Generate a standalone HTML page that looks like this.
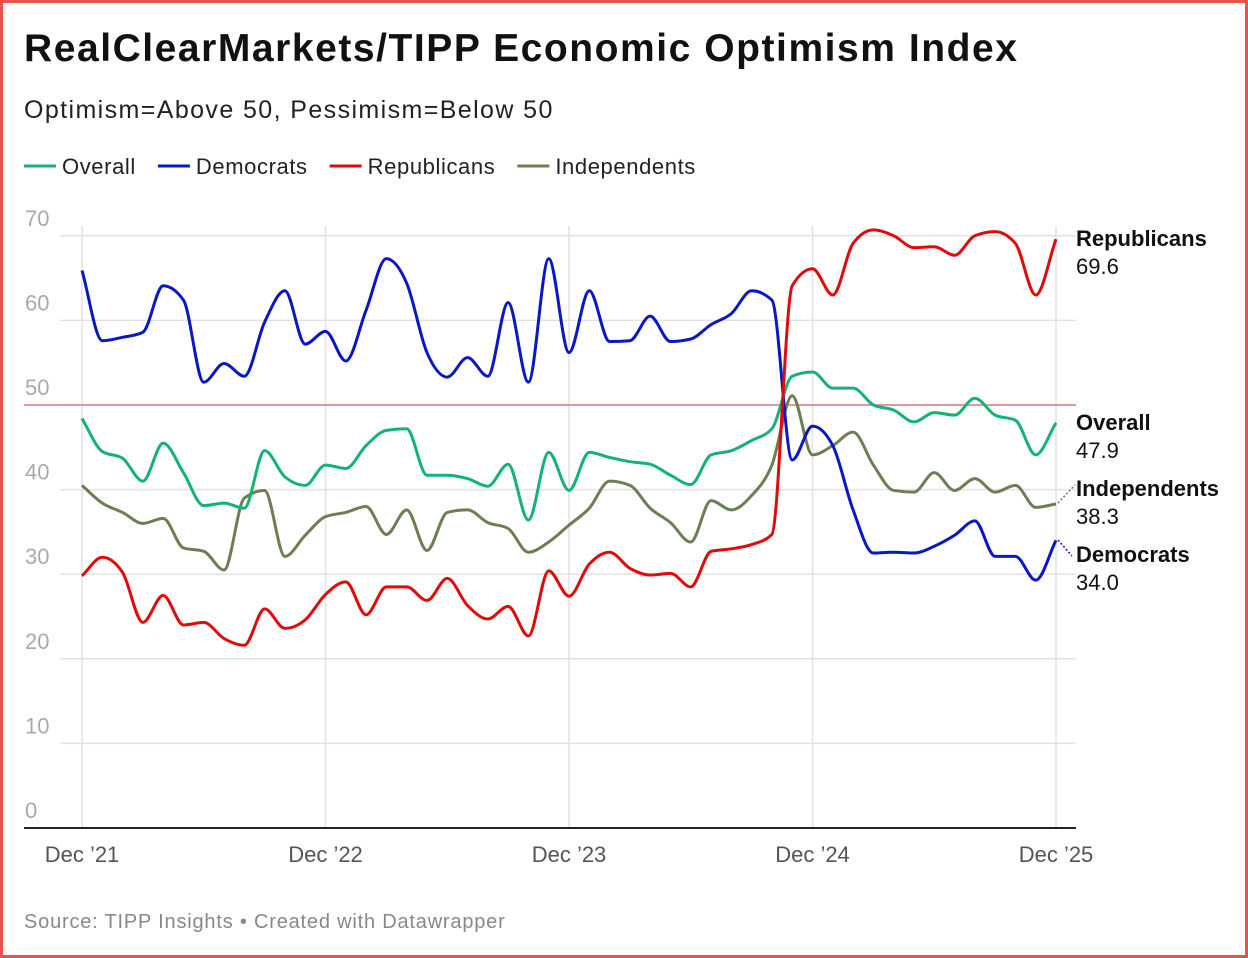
<!DOCTYPE html>
<html><head><meta charset="utf-8"><style>
html,body{margin:0;padding:0;background:#fff;}
body{width:1248px;height:958px;position:relative;overflow:hidden;font-family:"Liberation Sans",sans-serif;}
.frame{position:absolute;left:0;top:0;width:1242px;height:952px;border:3px solid #e8524a;}
.t{position:absolute;white-space:nowrap;}
</style></head><body>
<div class="frame"></div>
<div class="t" style="left:24px;top:27px;font-size:39px;font-weight:bold;color:#111;letter-spacing:1.55px">RealClearMarkets/TIPP Economic Optimism Index</div>
<div class="t" style="left:24px;top:96px;font-size:25px;color:#222;letter-spacing:1.4px">Optimism=Above 50, Pessimism=Below 50</div>
<svg width="1248" height="958" style="position:absolute;left:0;top:0" id="chart" font-family="Liberation Sans, sans-serif"></svg>
<script>
const categories=[];for(let i=0;i<49;i++)categories.push(i);
const xTickLabels=["Dec \u201921","Dec \u201922","Dec \u201923","Dec \u201924","Dec \u201925"];
const xTickIdx=[0,12,24,36,48];
const yTicks=[0,10,20,30,40,50,60,70];
const overall=[48.4,44.5,43.7,41,45.5,42,38.1,38.4,37.8,44.6,41.5,40.5,42.9,42.5,45.2,47,47.2,41.7,41.7,41.3,40.4,43,36.4,44.4,39.9,44.4,43.8,43.3,43,41.7,40.6,44.1,44.6,45.8,47.2,53.4,53.9,52,52,50,49.4,48,49.1,48.8,50.8,48.8,48.2,44.1,47.9];
const democrats=[65.9,57.6,58,58.6,64.1,62.4,52.7,54.9,53.4,59.8,63.5,57.2,58.7,55.2,61.2,67.3,64.4,56.2,53.3,55.6,53.4,62.1,52.7,67.3,56.2,63.5,57.5,57.6,60.5,57.5,57.8,59.5,60.8,63.5,62.4,43.5,47.5,45.2,37.6,32.5,32.6,32.5,33.3,34.6,36.3,32.1,32.1,29.3,34.0];
const republicans=[29.8,32,30.2,24.3,27.5,24,24.3,22.4,21.6,25.9,23.6,24.6,27.6,29.1,25.2,28.5,28.5,26.9,29.5,26.3,24.7,26.2,22.7,30.4,27.4,31.2,32.6,30.7,29.9,30.1,28.5,32.7,33,33.5,34.7,64.1,66.1,63,69.1,70.7,70,68.6,68.7,67.7,70,70.5,69.1,63,69.6];
const independents=[40.5,38.4,37.3,36,36.6,33.1,32.7,30.5,39,39.9,32.1,34.6,36.8,37.3,38,34.7,37.6,32.8,37.3,37.6,36.1,35.4,32.6,33.8,35.8,37.8,41,40.5,37.8,36.1,33.8,38.7,37.6,39.3,42.9,51.1,44.1,45.2,46.8,42.9,39.9,39.7,42,39.9,41.3,39.7,40.5,37.9,38.3];
const seriesNames=["Overall","Democrats","Republicans","Independents"];
const seriesColors=["#13b27a","#0a17c4","#e00a0a","#6d7f52"];
const seriesData=[overall,democrats,republicans,independents];

const svg=document.getElementById('chart');const NS='http://www.w3.org/2000/svg';
const X=i=>82+i*(1056-82)/48;const Y=v=>828-v*(828-405)/50;
function mk(t,a,name,txt){const e=document.createElementNS(NS,t);for(const k in a)e.setAttribute(k,a[k]);


if(txt!=null)e.textContent=txt;svg.appendChild(e);return e;}
yTicks.forEach(v=>{if(v>0)mk('line',{x1:60,x2:1076,y1:Y(v),y2:Y(v),stroke:'#e2e2e2','stroke-width':1.5},'y-gridline');
mk('text',{x:25,y:Y(v)-10,'font-size':22,fill:'#aaa'},'y-tick-label',String(v));});
xTickIdx.forEach((ix,k)=>{mk('line',{x1:X(ix),x2:X(ix),y1:226,y2:828,stroke:'#e2e2e2','stroke-width':1.5},'x-gridline');
mk('text',{x:X(ix),y:862,'font-size':22,fill:'#555','text-anchor':'middle'},'x-tick-label',xTickLabels[k]);});
mk('line',{x1:24,x2:1076,y1:Y(50),y2:Y(50),stroke:'#e07a7a','stroke-width':1.5},'reference-line-50');
mk('line',{x1:24,x2:1076,y1:828,y2:828,stroke:'#222','stroke-width':2},'x-axis-baseline');
function path(d){const p=d.map((v,i)=>[X(i),Y(v)]);const n=p.length;const h=p[1][0]-p[0][0];
const s=[];for(let i=0;i<n-1;i++)s.push((p[i+1][1]-p[i][1])/h);
const m=new Array(n);m[0]=s[0];m[n-1]=s[n-2];
for(let i=1;i<n-1;i++){const a=s[i-1],b=s[i];if(a*b<=0)m[i]=0;else{const pp=(a+b)/2;m[i]=(Math.sign(a)+Math.sign(b))*Math.min(Math.abs(a),Math.abs(b),0.5*Math.abs(pp));}}
let str='M'+p[0][0]+','+p[0][1];
for(let i=0;i<n-1;i++){const dx=h/3;str+=' C'+(p[i][0]+dx)+','+(p[i][1]+m[i]*dx)+' '+(p[i+1][0]-dx)+','+(p[i+1][1]-m[i+1]*dx)+' '+p[i+1][0]+','+p[i+1][1];}
return str;}
[3,0,1,2].forEach(k=>{mk('path',{d:path(seriesData[k]),fill:'none',stroke:seriesColors[k],'stroke-width':3,'stroke-linejoin':'round'},'line-'+seriesNames[k].toLowerCase());});
const lab=[[2,238,null],[0,422,null],[3,488,[1058,503,1075,485]],[1,554,[1058,540,1072,556]]];
lab.forEach(([k,y,ld])=>{const d=seriesData[k];
if(ld)mk('line',{x1:ld[0],y1:ld[1],x2:ld[2],y2:ld[3],stroke:seriesColors[k],'stroke-width':1.5,'stroke-dasharray':'2,2'},'label-leader');
mk('text',{x:1076,y:y+8,'font-size':22,'font-weight':'bold',fill:'#111'},'end-label-name',seriesNames[k]);
mk('text',{x:1076,y:y+36,'font-size':22,fill:'#111'},'end-label-value',d[d.length-1].toFixed(1));});
let lx=24;seriesNames.forEach((n,k)=>{mk('line',{x1:lx,x2:lx+32,y1:166,y2:166,stroke:seriesColors[k],'stroke-width':3},'legend-swatch');
const t=mk('text',{x:lx+38,y:174,'font-size':22,fill:'#222','letter-spacing':0.6},'legend-entry',n);lx+=38+t.getComputedTextLength()+22;});
mk('text',{x:24,y:928,'font-size':20,fill:'#888','letter-spacing':0.8},'source-note','Source: TIPP Insights \u2022 Created with Datawrapper');
</script>
</body></html>
